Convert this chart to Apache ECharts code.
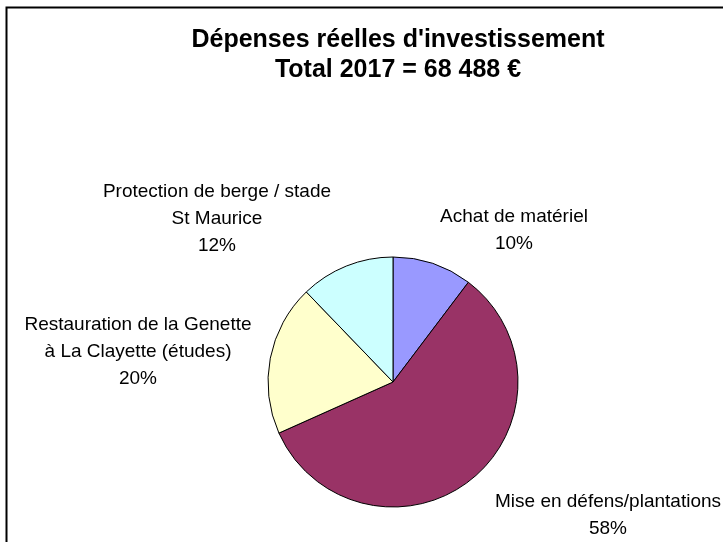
<!DOCTYPE html>
<html>
<head>
<meta charset="utf-8">
<script src="https://cdn.jsdelivr.net/npm/echarts@6/dist/echarts.min.js"></script>
<style>
  html, body { margin: 0; padding: 0; background: #fff; }
  #chart { width: 723px; height: 542px; }
</style>
</head>
<body>
<div id="chart"></div>
<script>
// postes de dépenses (ordre horaire depuis midi)
const categories = [
  'Achat de matériel',
  'Mise en défens/plantations',
  'Restauration de la Genette\nà La Clayette (études)',
  'Protection de berge / stade\nSt Maurice'
]
// montants estimés en euros (total 68 488 €)
const amounts = [7054, 39723, 13355, 8356]
const sliceColors = ['#9999FF', '#993366', '#FFFFCC', '#CCFFFF']
// position des étiquettes (centre horizontal, haut du bloc)
const labelPos = [
  [514, 203],
  [608, 488],
  [138, 311],
  [217, 178]
]

const chart = echarts.init(document.getElementById('chart'))

const option = {
  animation: false,
  backgroundColor: '#fff',
  title: {
    text: "Dépenses réelles d'investissement\nTotal 2017 = 68 488 €",
    left: 393,
    top: 20,
    textAlign: 'center',
    textStyle: {
      fontFamily: 'Liberation Sans',
      fontSize: 25,
      fontWeight: 'bold',
      color: '#000',
      lineHeight: 30
    }
  },
  graphic: [
    {
      type: 'polyline',
      shape: { points: [[6.5, 560], [6.5, 7.5], [740, 7.5]] },
      style: { stroke: '#000', lineWidth: 2, fill: null },
      silent: true
    }
  ],
  series: [
    {
      type: 'pie',
      center: [393, 382],
      radius: 125,
      startAngle: 90,
      clockwise: true,
      data: categories.map((name, i) => ({
        name,
        value: amounts[i],
        itemStyle: { color: sliceColors[i] }
      })),
      itemStyle: {
        borderColor: '#000',
        borderWidth: 1
      },
      label: {
        show: true,
        position: 'outside',
        formatter: p => p.name + '\n' + Math.round(p.percent) + '%',
        fontFamily: 'Liberation Sans',
        fontSize: 19,
        lineHeight: 27,
        color: '#000',
        align: 'center',
        overflow: 'none',
        width: 400
      },
      labelLine: { show: false },
      labelLayout: params => ({
        x: labelPos[params.dataIndex][0],
        y: labelPos[params.dataIndex][1],
        align: 'center',
        verticalAlign: 'top'
      }),
      emphasis: { disabled: true }
    }
  ]
}

chart.setOption(option)
</script>
</body>
</html>
